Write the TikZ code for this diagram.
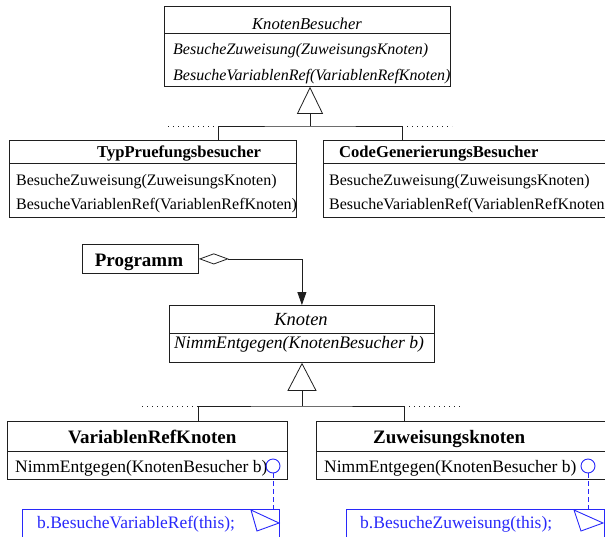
\documentclass[tikz,border=0pt]{standalone}
\usepackage{fontspec}
\setmainfont{Liberation Serif}
\usetikzlibrary{arrows.meta}
\definecolor{linegray}{gray}{0.12}
\definecolor{noteblue}{RGB}{40,40,250}

\tikzset{
  classbox/.style={draw=linegray, line width=0.8pt, rectangle, inner sep=0pt, anchor=north west},
  conn/.style={draw=linegray, line width=0.8pt},
  dotline/.style={draw=linegray, line width=0.9pt, dash pattern=on 0.9pt off 4.1pt},
  upperhead/.style={inner sep=0pt, font=\fontsize{16.6}{19}\selectfont\bfseries},
  upperital/.style={inner sep=0pt, font=\fontsize{16.6}{19}\selectfont\itshape},
  uppermeth/.style={inner sep=0pt, anchor=base west, font=\fontsize{16}{19}\selectfont},
  upperimeth/.style={inner sep=0pt, anchor=base west, font=\fontsize{16}{19}\selectfont\itshape},
  lowerhead/.style={inner sep=0pt, font=\fontsize{19}{22}\selectfont\bfseries},
  lowerital/.style={inner sep=0pt, font=\fontsize{18.5}{22}\selectfont\itshape},
  lowermeth/.style={inner sep=0pt, anchor=base west, font=\fontsize{17.5}{21}\selectfont},
  lowerimeth/.style={inner sep=0pt, anchor=base west, font=\fontsize{17.6}{21}\selectfont\itshape},
  notebox/.style={draw=noteblue, line width=0.9pt, rectangle, inner sep=0pt, anchor=north west},
  notetext/.style={inner sep=0pt, anchor=base west, text=noteblue, font=\fontsize{17.5}{21}\selectfont},
  port/.style={draw=noteblue, line width=0.9pt, circle, inner sep=0pt, minimum size=14pt},
  notelink/.style={draw=noteblue, line width=0.9pt, dash pattern=on 4.5pt off 3.5pt},
  inherit/.style={conn, -{Triangle[open, length=27pt, width=26pt, line width=0.8pt]}},
}

\begin{document}
\begin{tikzpicture}[x=1pt, y=-1pt]
\useasboundingbox (0,0) rectangle (605,536);
\clip (0,0) rectangle (605,536);

% ---------- visitor hierarchy ----------
\node[classbox, minimum width=286pt, minimum height=80pt] (kb) at (164,6) {};
\draw[conn] ([yshift=-27pt]kb.north west) -- ([yshift=-27pt]kb.north east);
\node[upperital, anchor=base] (kbT) at (307,29) {KnotenBesucher};
\node[upperimeth] (kbM1) at (173,54) {BesucheZuweisung(ZuweisungsKnoten)};
\node[upperimeth] (kbM2) at (173,80) {BesucheVariablenRef(VariablenRefKnoten)};

\node[classbox, minimum width=287pt, minimum height=77pt] (typ) at (9,140) {};
\draw[conn] ([yshift=-23pt]typ.north west) -- ([yshift=-23pt]typ.north east);
\node[upperhead, anchor=base west] (typT) at (97,157) {TypPruefungsbesucher};
\node[uppermeth] (typM1) at (16,185) {BesucheZuweisung(ZuweisungsKnoten)};
\node[uppermeth] (typM2) at (16,209) {BesucheVariablenRef(VariablenRefKnoten)};

\node[classbox, minimum width=300pt, minimum height=77pt] (code) at (323,140) {};
\draw[conn] ([yshift=-23pt]code.north west) -- ([yshift=-23pt]code.north east);
\node[upperhead, anchor=base west] (codeT) at (339,157) {CodeGenerierungsBesucher};
\node[uppermeth] (codeM1) at (329,185) {BesucheZuweisung(ZuweisungsKnoten)};
\node[uppermeth] (codeM2) at (329,209) {BesucheVariablenRef(VariablenRefKnoten)};

\coordinate (j1) at (310,126);
\coordinate (typIn) at (218,140);
\coordinate (codeIn) at (402,140);
\coordinate (dl1) at (168,126);
\coordinate (dr1) at (452,126);
\draw[conn] (typIn) |- (j1) -| (codeIn);
\draw[inherit] (j1) -- (j1 |- kb.south);
\draw[dotline] (dl1) -- (typIn |- dl1);
\draw[dotline] (codeIn |- dr1) -- (dr1);

% ---------- node hierarchy ----------
\node[classbox, minimum width=116pt, minimum height=29pt] (prog) at (82,244) {};
\node[lowerhead, anchor=base] (progT) at (139,266) {Programm};

\node[classbox, minimum width=265pt, minimum height=57pt] (kn) at (169,305) {};
\draw[conn] ([yshift=-28pt]kn.north west) -- ([yshift=-28pt]kn.north east);
\node[lowerital, anchor=base] (knT) at (301,325) {Knoten};
\node[lowerimeth] (knM) at (174,348) {NimmEntgegen(KnotenBesucher b)};

\draw[conn, {Diamond[open, length=30pt, width=11pt, line width=0.8pt]}-{Triangle[length=13pt, width=9pt]}]
  (prog.east) -| (kn.north);

\node[classbox, minimum width=280pt, minimum height=58pt] (vrk) at (7,421) {};
\draw[conn] ([yshift=-30pt]vrk.north west) -- ([yshift=-30pt]vrk.north east);
\node[lowerhead, anchor=base west] (vrkT) at (68,443) {VariablenRefKnoten};
\node[lowermeth] (vrkM) at (15,472) {NimmEntgegen(KnotenBesucher b)};

\node[classbox, minimum width=310pt, minimum height=58pt] (zk) at (316,421) {};
\draw[conn] ([yshift=-30pt]zk.north west) -- ([yshift=-30pt]zk.north east);
\node[lowerhead, anchor=base west] (zkT) at (373,443) {Zuweisungsknoten};
\node[lowermeth] (zkM) at (324,472) {NimmEntgegen(KnotenBesucher b)};

\coordinate (j2) at (302,406);
\coordinate (vrkIn) at (198,421);
\coordinate (zkIn) at (404,421);
\coordinate (dl2) at (142,406);
\coordinate (dr2) at (461,406);
\draw[conn] (vrkIn) |- (j2) -| (zkIn);
\draw[conn, -{Triangle[open, length=28pt, width=29pt, line width=0.8pt]}] (j2) -- (j2 |- kn.south);
\draw[dotline] (dl2) -- (vrkIn |- dl2);
\draw[dotline] (zkIn |- dr2) -- (dr2);

% ---------- implementation notes ----------
\node[port] (p1) at (273,466) {};
\node[port] (p2) at (588,466) {};

\node[notebox, minimum width=257pt, minimum height=40pt] (n1) at (22,509) {};
\node[notetext] (n1T) at (37,528) {b.BesucheVariableRef(this);};
\draw[noteblue, line width=0.9pt] (251,510) -- (279,523) -- (257,531) -- cycle;

\node[notebox, minimum width=258pt, minimum height=40pt] (n2) at (346,509) {};
\node[notetext] (n2T) at (360,528) {b.BesucheZuweisung(this);};
\draw[noteblue, line width=0.9pt] (574,510) -- (603,523) -- (581,531) -- cycle;

\draw[notelink] (p1.south) -- (p1 |- n1.north);
\draw[notelink] (p2.south) -- (p2 |- n2.north);
\end{tikzpicture}
\end{document}
